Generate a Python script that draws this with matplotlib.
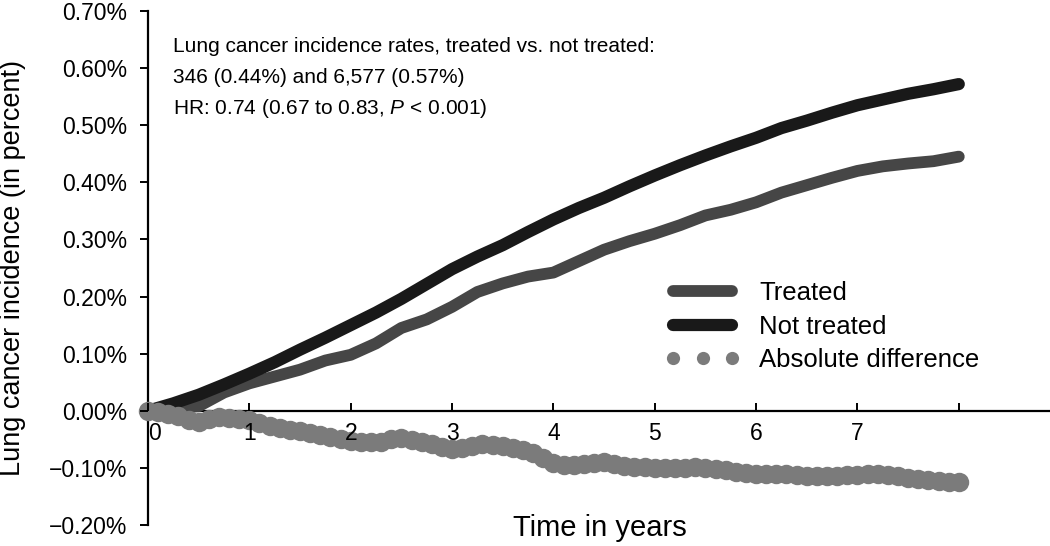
import numpy as np
import matplotlib
matplotlib.use('Agg')
import matplotlib.pyplot as plt
from matplotlib.lines import Line2D

plt.rcParams['font.family'] = ['Liberation Sans', 'DejaVu Sans']
plt.rcParams['mathtext.fontset'] = 'custom'
plt.rcParams['mathtext.it'] = 'Liberation Sans:italic'
plt.rcParams['mathtext.rm'] = 'Liberation Sans'

# cumulative incidence (%) read every quarter year
years = [0, 0.25, 0.5, 0.75, 1, 1.25, 1.5, 1.75, 2, 2.25, 2.5, 2.75, 3, 3.25, 3.5, 3.75,
         4, 4.25, 4.5, 4.75, 5, 5.25, 5.5, 5.75, 6, 6.25, 6.5, 6.75, 7, 7.25, 7.5, 7.75, 8]
not_treated = [0, 0.013, 0.028, 0.046, 0.065, 0.085, 0.107, 0.128, 0.150, 0.172, 0.196,
               0.222, 0.248, 0.270, 0.290, 0.313, 0.335, 0.355, 0.373, 0.393, 0.412,
               0.430, 0.447, 0.463, 0.478, 0.495, 0.508, 0.522, 0.535, 0.545, 0.555,
               0.563, 0.572]
treated = [0, 0.005, 0.008, 0.032, 0.048, 0.060, 0.072, 0.088, 0.098, 0.118, 0.145,
           0.160, 0.182, 0.208, 0.223, 0.235, 0.242, 0.262, 0.282, 0.297, 0.310,
           0.325, 0.342, 0.352, 0.365, 0.382, 0.395, 0.408, 0.420, 0.428, 0.433,
           0.437, 0.445]

# absolute difference read every 0.1 year
diff_years = [round(0.1 * i, 1) for i in range(81)]
abs_diff = [0.000, -0.003, -0.006, -0.010, -0.016, -0.020, -0.015, -0.011, -0.012, -0.014,
            -0.017, -0.022, -0.027, -0.030, -0.033, -0.036, -0.039, -0.042, -0.046, -0.050,
            -0.053, -0.054, -0.055, -0.054, -0.050, -0.048, -0.051, -0.055, -0.058, -0.063,
            -0.067, -0.066, -0.061, -0.059, -0.060, -0.062, -0.065, -0.069, -0.074, -0.083,
            -0.092, -0.095, -0.095, -0.094, -0.092, -0.090, -0.093, -0.096, -0.098, -0.099,
            -0.100, -0.101, -0.101, -0.100, -0.099, -0.100, -0.102, -0.104, -0.107, -0.109,
            -0.111, -0.111, -0.110, -0.110, -0.112, -0.114, -0.114, -0.114, -0.114, -0.113,
            -0.112, -0.111, -0.111, -0.112, -0.114, -0.117, -0.119, -0.121, -0.123, -0.124,
            -0.125]

x_ticks = [0, 1, 2, 3, 4, 5, 6, 7, 8]
x_tick_labels = ['0', '1', '2', '3', '4', '5', '6', '7', '']
y_ticks = [-0.2, -0.1, 0.0, 0.1, 0.2, 0.3, 0.4, 0.5, 0.6, 0.7]

info_lines = ['Lung cancer incidence rates, treated vs. not treated:',
              '346 (0.44%) and 6,577 (0.57%)',
              'HR: 0.74 (0.67 to 0.83, $P$ < 0.001)']

c_treated = '#464646'
c_not = '#191919'
c_diff = '#7b7b7b'

fig = plt.figure(figsize=(10.5, 5.46), dpi=100)
ax = fig.add_axes([148 / 1050, 21 / 546, 902 / 1050, 514 / 546])

ax.plot(years, treated, color=c_treated, lw=8.5, solid_capstyle='round', zorder=1.8)
ax.plot(years, not_treated, color=c_not, lw=8.8, solid_capstyle='round', zorder=1.9)
ax.plot(diff_years, abs_diff, ls='none', marker='o', ms=14, color=c_diff,
        markeredgewidth=0, zorder=2.2, clip_on=False)

ax.set_xlim(0, 8.9)
ax.set_ylim(-0.2, 0.7)

for s in ['top', 'right']:
    ax.spines[s].set_visible(False)
ax.spines['bottom'].set_position(('data', 0))
ax.spines['bottom'].set_zorder(1.5)
ax.spines['left'].set_zorder(1.5)
ax.spines['bottom'].set_linewidth(1.6)
ax.spines['left'].set_linewidth(1.6)
ax.set_axisbelow(False)

ax.set_xticks(x_ticks)
ax.set_xticklabels(x_tick_labels)
ax.set_yticks(y_ticks)
ax.set_yticklabels([('%.2f%%' % v).replace('-', '\u2212') for v in y_ticks])
ax.tick_params(axis='x', direction='in', length=6, width=1.4, pad=8, labelsize=16.5)
ax.tick_params(axis='y', direction='out', length=6, width=1.4, pad=9, labelsize=16.5)
ax.get_xticklabels()[0].set_horizontalalignment('left')

ax.set_ylabel('Lung cancer incidence (in percent)', fontsize=19.5, labelpad=16)
ax.set_xlabel('Time in years', fontsize=21)
ax.xaxis.set_label_coords(0.501, 0.022)

for i, line in enumerate(info_lines):
    ax.text(0.028, 0.93 - i * 0.06, line, transform=ax.transAxes, fontsize=15,
            va='center', ha='left')

handles = [Line2D([], [], color=c_treated, lw=8.5, solid_capstyle='round'),
           Line2D([], [], color=c_not, lw=8.8, solid_capstyle='round'),
           Line2D([], [], ls='none', marker='o', ms=9.5, color=c_diff, markeredgewidth=0)]
ax.legend(handles, ['Treated', 'Not treated', 'Absolute difference'], loc='upper left',
          bbox_to_anchor=(0.548, 0.52), frameon=False, fontsize=18.5, handlelength=2.9,
          handletextpad=0.75, labelspacing=0.38, numpoints=3)

fig.savefig('out.png', dpi=100)
